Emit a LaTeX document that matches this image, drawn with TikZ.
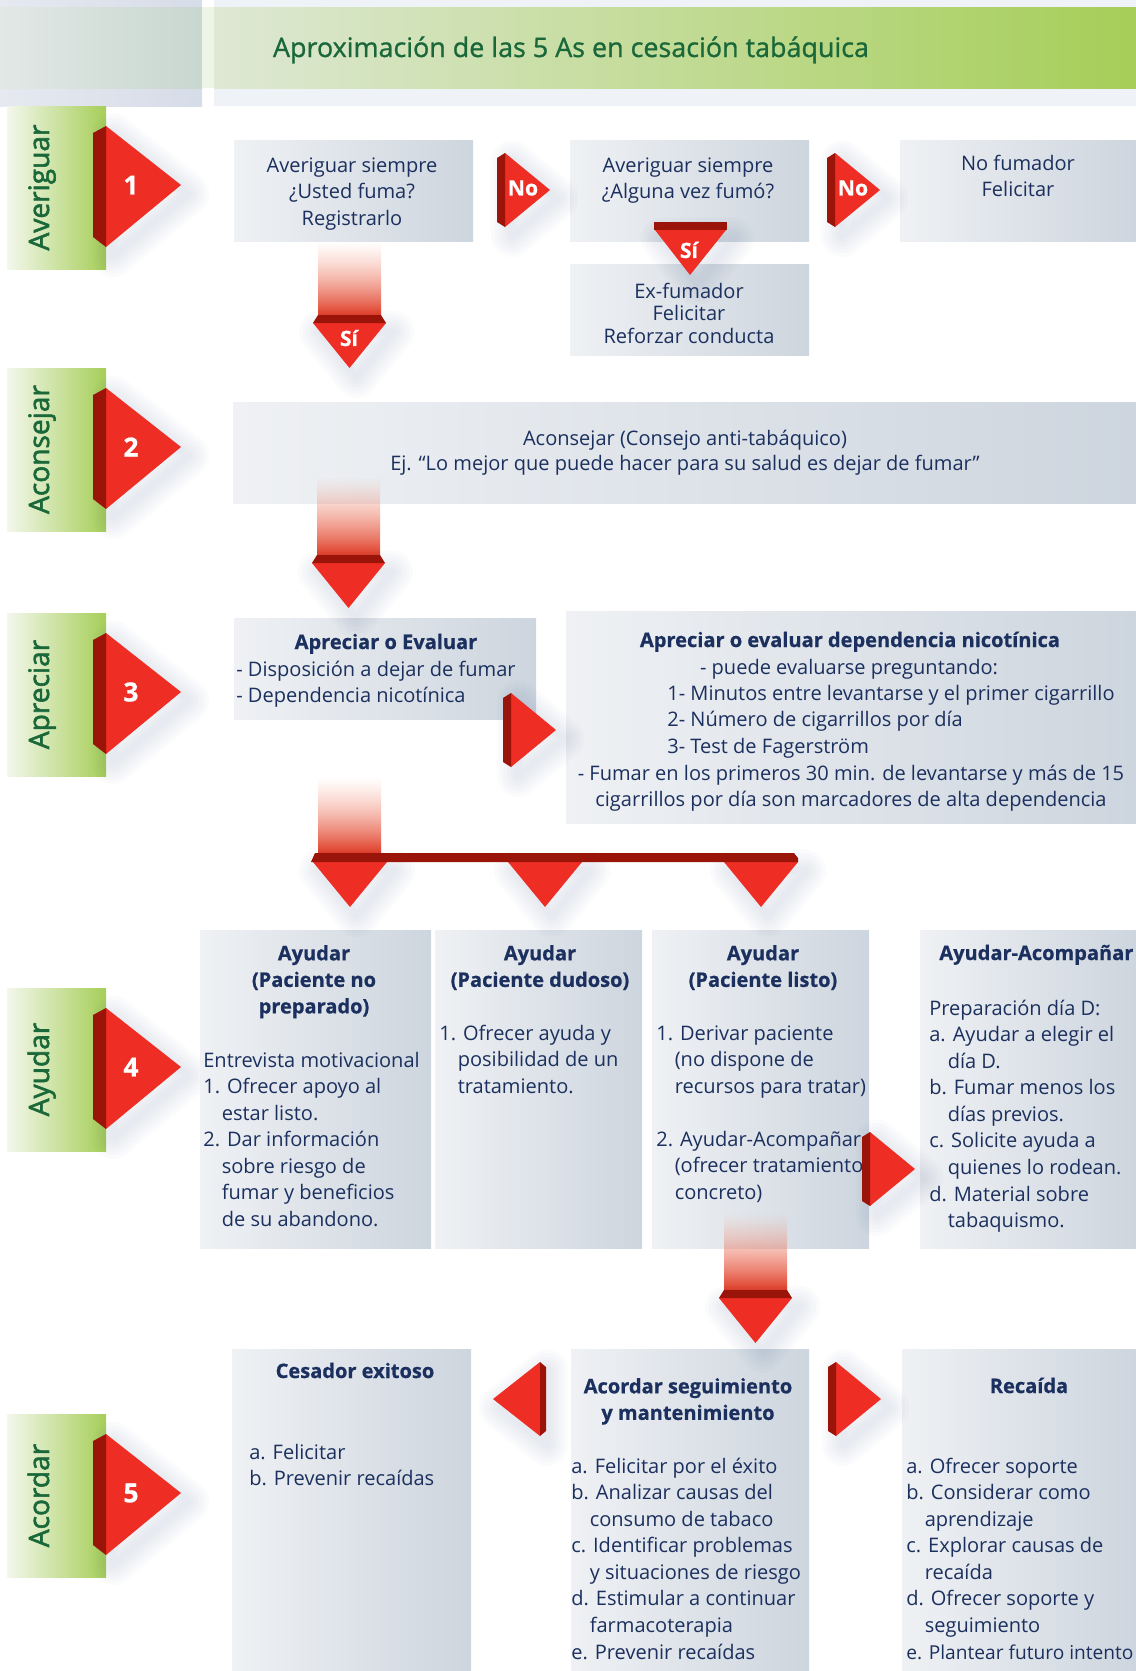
\documentclass[tikz,border=0pt]{standalone}
\usepackage{fontspec}
\setmainfont{Open Sans}[BoldFeatures={FakeBold=0.7}]
\newfontfamily\stepfont[FakeBold=2]{Open Sans}
\newfontfamily\titlefont[FakeBold=1]{Open Sans}
\usetikzlibrary{fit, fadings}

\definecolor{redA}{HTML}{EE2E24}
\definecolor{redDark}{HTML}{9B1409}
\definecolor{navy}{HTML}{1B305E}
\definecolor{darkgreen}{HTML}{1A683A}
\definecolor{leafgreen}{HTML}{A6CE58}
\definecolor{barL}{HTML}{F3F7EC}
\definecolor{boxL}{HTML}{EFF1F4}
\definecolor{boxR}{HTML}{CDD5DE}
\definecolor{hdrL}{HTML}{E6E9F0}
\definecolor{hdrR}{HTML}{D6DCE8}
\definecolor{hdrPale}{HTML}{EFF2F6}
\definecolor{bandGrayL}{HTML}{E2E8E6}
\definecolor{bandGrayR}{HTML}{C8D7CF}
\definecolor{bandPale}{HTML}{EEF4E6}
\definecolor{bandL}{HTML}{DEE8D4}
\definecolor{stemTop}{HTML}{F6A58C}
\definecolor{stemBot}{HTML}{DF3C26}
\definecolor{shadowblue}{HTML}{4A5E8C}

\newcommand{\hangin}{\hspace*{10.5pt}}
\tikzfading[name=stemfade, top color=transparent!100, bottom color=transparent!0]

\begin{document}
\begin{tikzpicture}[x=0.02cm, y=-0.02cm,
	panel/.style={inner sep=0pt, left color=boxL, right color=boxR},
	txt/.style={text=navy, inner sep=0pt, font=\fontsize{11.4}{15.1}\selectfont},
	head/.style={txt, font=\fontsize{11.4}{15.1}\selectfont\bfseries},
	glow/.style={preaction={draw=shadowblue, line join=round, line width=#1, draw opacity=0.025, transform canvas={shift={(4pt,-5pt)}}}},
	redtri/.style={fill=redA, glow=24pt, glow=20pt, glow=16pt, glow=12pt, glow=8pt, glow=4pt},
	stem/.style={top color=stemTop, bottom color=stemBot, path fading=stemfade},
	yesno/.style={text=white, inner sep=0pt, font=\fontsize{12}{14}\selectfont\bfseries},
	numtxt/.style={text=white, inner sep=0pt, font=\fontsize{15}{17}\selectfont\bfseries}]
	
	\useasboundingbox (0,0) rectangle (1136,1671);
	
	% --- 1. Header band ---
	\shade[left color=hdrL, right color=hdrR] (0,0) rectangle (202,106);
	\fill[hdrPale] (214,0) rectangle (1136,106);
	\shade[left color=bandGrayL, right color=bandGrayR] (0,7) rectangle (202,88);
	\fill[bandPale] (202,7) rectangle (214,88);
	\shade[left color=bandL, right color=leafgreen] (214,7) rectangle (1136,88);
	\node[text=darkgreen, inner sep=0pt, font=\titlefont\fontsize{15.3}{18}\selectfont, anchor=base] (title) at (571,57) {Aproximación de las 5 As en cesación tabáquica};
	
	% --- 2. The five steps (green tab + numbered arrow) ---
	\foreach \name/\t/\n in {Averiguar/106/1, Aconsejar/368/2, Apreciar/613/3, Ayudar/988/4, Acordar/1414/5} {
		\shade[left color=barL, right color=leafgreen] (7,\t) rectangle (106,\t+163);
		\node[rotate=90, anchor=base, inner sep=0pt, text=darkgreen, font=\stepfont\fontsize{16}{18}\selectfont] (lbl\n) at (49,\t+81.5) {\name};
		\fill[redtri] (106,\t+20) -- (181,\t+79) -- (106,\t+141) -- cycle;
		\fill[redDark] (93,\t+27) -- (106,\t+20) -- (106,\t+141) -- (93,\t+131) -- cycle;
		\node[numtxt] (num\n) at (131,\t+79) {\n};
	}
	
	% --- 3. Averiguar ---
	\node[panel, fit={(234,140) (473,241)}] (fuma) {};
	\node[panel, fit={(570,140) (809,241)}] (fumo) {};
	\node[panel, fit={(900,140) (1136,241)}] (nofum) {};
	\node[panel, fit={(570,264) (809,355)}] (exfum) {};
	\node[txt, anchor=north, align=center] (fumaT) at (352,153.4) {\strut Averiguar siempre\\¿Usted fuma?\\Registrarlo};
	\node[txt, anchor=north, align=center] (fumoT) at (688,153.4) {\strut Averiguar siempre\\¿Alguna vez fumó?};
	\node[txt, anchor=north, align=center] (nofumT) at (1018,151.4) {\strut No fumador\\Felicitar};
	\node[txt, font=\fontsize{11.4}{12.8}\selectfont, anchor=north, align=center] (exfumT) at (689,282.2) {\strut Ex-fumador\\Felicitar\\Reforzar conducta};
	
	% --- 4. Aconsejar ---
	\node[panel, fit={(233,402) (1136,503)}] (consejo) {};
	\node[txt, font=\fontsize{11.4}{14.2}\selectfont, anchor=north, align=center] (consejoT) at (685,427.5) {\strut Aconsejar (Consejo anti-tabáquico)\\Ej. “Lo mejor que puede hacer para su salud es dejar de fumar”};
	
	% --- 5. Apreciar ---
	\node[panel, fit={(234,618) (536,719)}] (evalua) {};
	\node[head, anchor=base] (evaluaH) at (386,649) {Apreciar o Evaluar};
	\node[txt, anchor=north west, align=left] (evaluaT) at (236,657.4) {\strut - Disposición a dejar de fumar\\- Dependencia nicotínica};
	\node[panel, fit={(566,611) (1136,823)}] (depen) {};
	\node[head, anchor=base] (depenH) at (850,647) {Apreciar o evaluar dependencia nicotínica};
	\node[txt, anchor=base] (depenA) at (849,674) {- puede evaluarse preguntando:};
	\node[txt, anchor=north west, align=left] (depenL) at (667,681.4) {\strut 1- Minutos entre levantarse y el primer cigarrillo\\2- Número de cigarrillos por día\\3- Test de Fagerström};
	\node[txt, anchor=north, align=center] (depenN) at (851,761.4) {\strut - Fumar en los primeros 30 min. de levantarse y más de 15\\cigarrillos por día son marcadores de alta dependencia};
	
	% --- 6. Ayudar ---
	\node[panel, fit={(200,930) (431,1248)}] (noprep) {};
	\node[panel, fit={(435,930) (642,1248)}] (dudoso) {};
	\node[panel, fit={(652,930) (869,1248)}] (listo) {};
	\node[panel, fit={(920,930) (1136,1248)}] (acomp) {};
	\node[head, anchor=north, align=center] (noprepH) at (314,941.4) {\strut Ayudar\\(Paciente no\\preparado)};
	\node[head, anchor=north, align=center] (dudosoH) at (540,941.4) {\strut Ayudar\\(Paciente dudoso)};
	\node[head, anchor=north, align=center] (listoH) at (763,941.4) {\strut Ayudar\\(Paciente listo)};
	\node[head, anchor=base west] (acompH) at (939,960) {Ayudar-Acompañar};
	\node[txt, anchor=north west, align=left] (noprepT) at (203,1048.4) {\strut Entrevista motivacional\\1. Ofrecer apoyo al\\\hangin estar listo.\\2. Dar información\\\hangin sobre riesgo de\\\hangin fumar y beneficios\\\hangin de su abandono.};
	\node[txt, anchor=north west, align=left] (dudosoT) at (439,1021.4) {\strut 1. Ofrecer ayuda y\\\hangin posibilidad de un\\\hangin tratamiento.};
	\node[txt, anchor=north west, align=left] (listoT) at (656,1021.4) {\strut 1. Derivar paciente\\\hangin (no dispone de\\\hangin recursos para tratar)\\[15.1pt]2. Ayudar-Acompañar\\\hangin (ofrecer tratamiento\\\hangin concreto)};
	\node[txt, anchor=north west, align=left] (acompT) at (929,996.4) {\strut Preparación día D:\\a. Ayudar a elegir el\\\hangin día D.\\b. Fumar menos los\\\hangin días previos.\\c. Solicite ayuda a\\\hangin quienes lo rodean.\\d. Material sobre\\\hangin tabaquismo.};
	
	% --- 7. Acordar ---
	\node[panel, fit={(232,1349) (471,1671)}] (exito) {};
	\node[panel, fit={(571,1349) (809,1671)}] (segui) {};
	\node[panel, fit={(902,1349) (1136,1671)}] (recaida) {};
	\node[head, anchor=base] (exitoH) at (355,1378) {Cesador exitoso};
	\node[txt, anchor=north west, align=left] (exitoT) at (249,1440.4) {\strut a. Felicitar\\b. Prevenir recaídas};
	\node[head, anchor=north, align=center] (seguiH) at (688,1374.4) {\strut Acordar seguimiento\\y mantenimiento};
	\node[txt, anchor=north west, align=left] (seguiT) at (571,1454.4) {\strut a. Felicitar por el éxito\\b. Analizar causas del\\\hangin consumo de tabaco\\c. Identificar problemas\\\hangin y situaciones de riesgo\\d. Estimular a continuar\\\hangin farmacoterapia\\e. Prevenir recaídas};
	\node[head, anchor=base] (recaidaH) at (1029,1393) {Recaída};
	\node[txt, anchor=north west, align=left] (recaidaT) at (906,1454.4) {\strut a. Ofrecer soporte\\b. Considerar como\\\hangin aprendizaje\\c. Explorar causas de\\\hangin recaída\\d. Ofrecer soporte y\\\hangin seguimiento\\{\fontsize{10.9}{15.1}\selectfont e. Plantear futuro intento}};
	
	% --- 8. Down arrows with fading stems ---
	\foreach \x/\ys/\ye in {318/241/315, 317/477/555, 724/1213/1290} {
		\shade[stem] (\x,\ys) rectangle (\x+63,\ye);
		\fill[redtri] (\x-5,\ye+8) -- (\x+68,\ye+8) -- (\x+31.5,\ye+53) -- cycle;
		\fill[redDark] (\x,\ye) -- (\x+63,\ye) -- (\x+68,\ye+8) -- (\x-5,\ye+8) -- cycle;
	}
	\node[yesno] (si1) at (349,338) {Sí};
	
	% branching bar under Apreciar
	\shade[stem] (318,777) rectangle (381,853);
	\foreach \x in {313, 508, 724}
		\fill[redtri] (\x,862) -- (\x+74,862) -- (\x+37,907) -- cycle;
	\fill[redDark] (315,853) -- (794,853) -- (798,858) -- (798,862) -- (311,862) -- cycle;
	
	% Si from the second question
	\fill[redtri] (655,230) -- (726,230) -- (690,275) -- cycle;
	\fill[redDark] (654,222) rectangle (727,230);
	\node[yesno] (si2) at (689,250) {Sí};
	
	% --- 9. Side arrows ---
	\foreach \x/\y in {497/153, 827/153, 503/693, 862/1132, 828/1362} {
		\fill[redtri] (\x+8,\y) -- (\x+53,\y+37) -- (\x+8,\y+74) -- cycle;
		\fill[redDark] (\x,\y+5) -- (\x+8,\y) -- (\x+8,\y+74) -- (\x,\y+69) -- cycle;
	}
	\node[yesno] (no1) at (523,188) {No};
	\node[yesno] (no2) at (853,188) {No};
	
	% arrow back to Cesador exitoso
	\fill[redtri] (540,1362) -- (493,1399) -- (540,1436) -- cycle;
	\fill[redDark] (540,1362) -- (546,1367) -- (546,1431) -- (540,1436) -- cycle;
	
\end{tikzpicture}
\end{document}
